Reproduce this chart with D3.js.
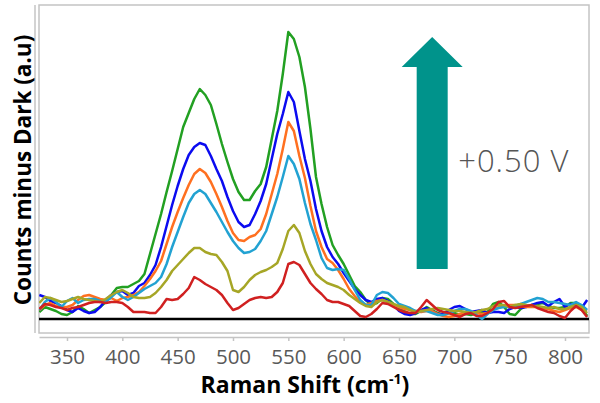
<!DOCTYPE html>
<html><head><meta charset="utf-8">
<script src="https://cdn.jsdelivr.net/npm/d3@7"></script>
<style>
html,body{margin:0;padding:0;background:#fff;}
svg{display:block;}
</style></head>
<body>
<svg id="chart" width="600" height="403"></svg>
<script>
// Raman shift grid (cm^-1)
const shifts = d3.range(325, 821, 5);
// series values (a.u.), one per shift
const green = [7,12,10,8,5,4,7,13,10,6, 9,12,17,24,31,32,32,35,38,45,
 65,85,105,127,148,170,192,206,220,230, 224,214,195,175,157,140,127,119,119,128,
 135,152,180,208,245,287,280,262,232,190, 142,115,92,74,64,55,44,33,27,19,
 14,16,21,20,15,10,8,5,5,8, 12,9,6,4,6,6,4,5,4,6,
 7,7,15,17,12,5,4,10,13,14, 15,16,13,11,11,12,16,16,12,3];
const blue = [24,22,18,16,13,9,7,11,8,6, 7,12,19,24,27,28,24,26,33,36,
 44,54,72,93,114,133,150,164,172,176, 174,163,150,138,122,108,97,92,94,105,
 118,135,160,185,205,227,217,188,160,138, 110,88,72,62,55,46,38,30,24,19,
 17,20,21,18,14,8,5,4,6,9, 11,8,5,5,9,12,13,10,7,8,
 9,6,7,7,6,10,12,11,12,14, 16,17,13,17,20,12,15,14,11,19];
const orange = [9,14,16,13,12,12,14,19,23,24, 22,20,19,21,18,21,22,24,27,33,
 40,48,58,75,92,107,121,134,145,150, 146,137,125,112,98,86,79,78,82,84,
 90,105,125,145,170,197,188,163,141,113, 88,72,60,56,49,40,30,23,17,14,
 16,18,19,17,14,12,10,9,8,7, 8,8,5,3,2,3,5,7,7,6,
 5,6,9,12,13,14,14,13,12,12, 12,11,10,8,7,9,11,12,9,8];
const cyan = [9,17,21,17,12,18,21,16,19,20, 20,18,17,22,27,22,19,22,26,30,
 33,36,42,55,72,87,102,116,125,129, 125,116,107,97,87,78,71,66,67,70,
 78,88,105,122,142,163,155,140,116,95, 79,61,51,49,50,49,40,29,19,14,
 14,24,27,26,21,15,13,11,8,8, 8,6,4,4,6,8,10,10,8,4,
 0,5,9,11,12,12,13,15,17,19, 21,20,17,17,16,15,14,17,14,9];
const olive = [16,22,21,19,17,18,20,22,20,19, 18,17,20,24,27,29,26,22,21,21,
 22,26,32,39,48,54,60,66,71,71, 67,65,64,57,48,29,27,32,39,44,
 47,49,52,56,70,88,94,86,68,55, 45,40,36,34,32,29,24,20,16,13,
 12,17,19,17,15,13,12,9,7,8, 9,10,11,10,9,8,8,7,6,7,
 9,10,13,14,14,12,14,15,14,13, 13,12,11,12,10,10,12,14,12,6];
const red = [10,15,14,12,11,9,11,12,14,16, 17,17,16,17,17,16,12,7,7,7,
 6,6,12,20,19,20,25,31,42,39, 35,32,29,24,16,9,11,15,19,21,
 22,21,22,27,36,55,57,54,45,36, 30,25,19,17,17,15,13,8,3,2,
 5,10,16,15,12,9,7,6,6,12, 19,14,9,7,6,4,2,5,6,3,
 3,6,10,17,18,12,11,12,13,14, 11,9,7,6,3,1,8,13,9,2];
const seriesNames = ["green","blue","orange","cyan","olive","red"];
const seriesData = [green, blue, orange, cyan, olive, red];
const seriesColors = ["#22a022","#0b0bf0","#ff7020","#22a2d2","#a6a626","#d02020"];
const xTicks = [350,400,450,500,550,600,650,700,750,800];
const xTitle = "Raman Shift (cm";
const yTitle = "Counts minus Dark (a.u)";
const arrowLabel = "+0.50 V";
const arrowFrom = 12, arrowTo = 284; // arrow extent in data units

const svg = d3.select("#chart");
const L = 39, R = 589, T = 5, B = 333;
const x = d3.scaleLinear().domain([324.7, 821.7]).range([L, R]);
const y = d3.scaleLinear().domain([-14, 314]).range([B, T]);

// frame
svg.append("rect").attr("x", L).attr("y", T).attr("width", R - L).attr("height", B - T)
  .attr("fill", "none").attr("stroke", "#c4c4c4").attr("stroke-width", 1.5);
svg.append("line").attr("x1", 35).attr("x2", 35).attr("y1", T).attr("y2", B)
  .attr("stroke", "#c4c4c4").attr("stroke-width", 1.5);

svg.append("defs").append("clipPath").attr("id", "clip")
  .append("rect").attr("x", L).attr("y", T).attr("width", R - L).attr("height", B - T);

// x axis
const xa = svg.append("g").attr("transform", `translate(0,337)`)
  .call(d3.axisBottom(x).tickValues(xTicks).tickSize(4).tickSizeOuter(0).tickPadding(8));
xa.select(".domain").attr("stroke", "#c4c4c4").attr("stroke-width", 1.5);
xa.selectAll(".tick line").attr("stroke", "#c4c4c4").attr("stroke-width", 1.5);
xa.selectAll(".tick text").attr("fill", "#595959").style("font-family", "'Open Sans', sans-serif")
  .style("font-size", "20.5px");

const g = svg.append("g").attr("clip-path", "url(#clip)");
// zero baseline
g.append("line").attr("x1", L).attr("x2", R).attr("y1", y(0)).attr("y2", y(0))
  .attr("stroke", "#000").attr("stroke-width", 2.5);

const line = d3.line().x((d, i) => x(shifts[i])).y(d => y(d));
seriesData.forEach((s, k) => {
  g.append("path").datum(s).attr("d", line).attr("fill", "none")
    .attr("stroke", seriesColors[k]).attr("stroke-width", 2.5)
    .attr("stroke-linejoin", "round").attr("class", seriesNames[k]);
});

// arrow
const ax = x(680), shaftW = 31, headW = 61, headH = 30;
const yb = y(arrowFrom + 38), yt = y(arrowTo - 2);
const arrowPts = [
  [ax - shaftW/2, yb], [ax - shaftW/2, yt + headH], [ax - headW/2, yt + headH],
  [ax, yt], [ax + headW/2, yt + headH], [ax + shaftW/2, yt + headH], [ax + shaftW/2, yb]
];
svg.append("polygon").attr("points", arrowPts.map(p => p.join(",")).join(" "))
  .attr("fill", "#00938b");
svg.append("text").attr("x", ax + 26).attr("y", 172).text(arrowLabel)
  .attr("fill", "#555").style("font-family", "'Open Sans', sans-serif")
  .style("font-weight", 300).style("font-size", "31px").style("letter-spacing", "1px");

// axis titles
const xt = svg.append("text").attr("x", 305).attr("y", 393).attr("text-anchor", "middle")
  .style("font-family", "'Open Sans', sans-serif").style("font-weight", 700)
  .style("font-size", "23px").attr("fill", "#000");
xt.append("tspan").text(xTitle);
xt.append("tspan").text("-1").attr("dy", -9).style("font-size", "14px");
xt.append("tspan").text(")").attr("dy", 9);

svg.append("text").attr("transform", `translate(31,170) rotate(-90)`).attr("text-anchor", "middle")
  .style("font-family", "'Open Sans', sans-serif").style("font-weight", 700)
  .style("font-size", "22.5px").attr("fill", "#000").text(yTitle);
</script>
</body></html>
